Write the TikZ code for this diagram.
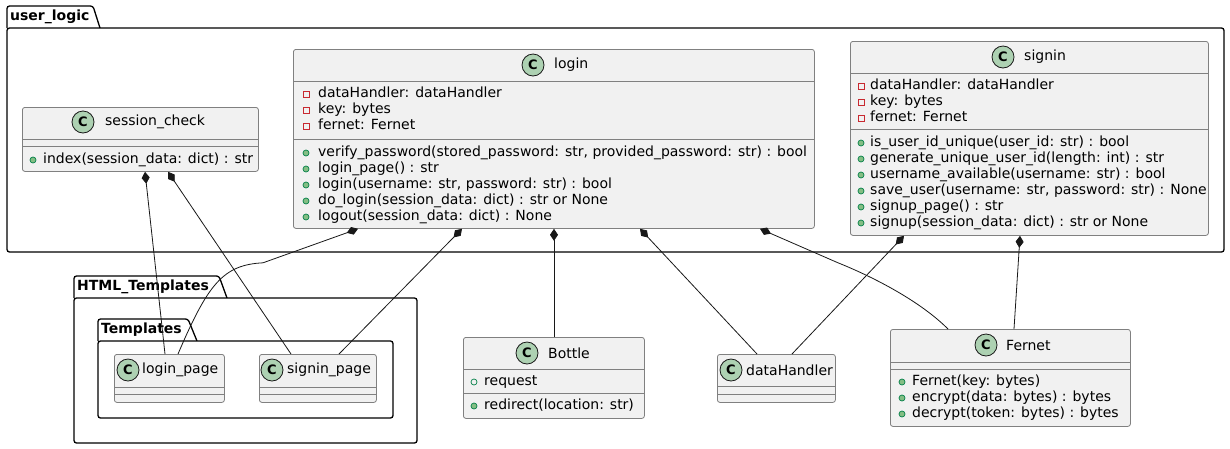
\documentclass[tikz,border=0pt]{standalone}
\usepackage{fontspec}
\setmainfont{DejaVu Sans}
\usetikzlibrary{arrows.meta,calc}

\definecolor{classbg}{HTML}{F1F1F1}
\definecolor{classln}{HTML}{808080}
\definecolor{spotbg}{HTML}{ADD1B2}
\definecolor{privred}{HTML}{C82930}
\definecolor{pubgreen}{HTML}{038048}
\definecolor{pubfill}{HTML}{84BE84}
\definecolor{edgeln}{HTML}{181818}

\begin{document}
\begin{tikzpicture}[x=1pt,y=-1pt,font=\fontsize{14}{16}\selectfont,
    classbox/.style={draw=classln, fill=classbg, rounded corners=2.5pt, anchor=north west, inner sep=0pt, line width=0.8pt},
    spot/.style={circle, draw=edgeln, fill=spotbg, minimum size=22pt, inner sep=0pt, line width=0.8pt, font=\bfseries\fontsize{13}{13}\selectfont},
    cname/.style={anchor=west, inner sep=0pt, font=\fontsize{14}{16}\selectfont},
    member/.style={anchor=west, inner sep=0pt, text height=10pt, text depth=3pt},
    sepline/.style={draw=classln, line width=0.8pt},
    pkg/.style={draw=black, fill=white, line width=1.3pt, rounded corners=2.5pt},
    pkglabel/.style={anchor=west, inner sep=0pt, font=\bfseries\fontsize{14}{16}\selectfont},
    comp/.style={draw=edgeln, line width=0.8pt, {Diamond[length=12pt,width=8pt]}-},
    privf/.style={draw=privred, line width=0.7pt},
    pubf/.style={draw=pubgreen, line width=0.7pt},
    pubm/.style={draw=pubgreen, fill=pubfill, line width=0.7pt}]

    \useasboundingbox (0,0) rectangle (1230,448);

    % Packages
    \draw[pkg] (7,28) -- (7,6) -- (93,6) -- (100,28);
    \draw[pkg] (7,28) rectangle (1224,252);
    \node[pkglabel] (userlogic) at (10,17) {user\_logic};

    \draw[pkg] (74,298) -- (74,276) -- (219,276) -- (227,298);
    \draw[pkg] (74,298) rectangle (417,443);
    \node[pkglabel] (htmltpl) at (77,287) {HTML\_Templates};

    \draw[pkg] (98,341) -- (98,319) -- (188,319) -- (197,341);
    \draw[pkg] (98,341) rectangle (393,418);
    \node[pkglabel] (tpl) at (101,330) {Templates};

    % session_check
    \node[classbox, minimum width=236pt, minimum height=64pt] (sc) at (22,107) {};
    \node[spot] (sc-c) at (83,122) {C};
    \node[cname] (sc-n) at (105,122) {session\_check};
    \draw[sepline] (22,139) -- (258,139);
    \draw[sepline] (22,146) -- (258,146);
    \draw[pubm] (33,160) circle (3pt);
    \node[member] (sc-m0) at (43,160) {index(session\_data: dict) : str};

    % login
    \node[classbox, minimum width=521pt, minimum height=179pt] (login) at (293,49) {};
    \node[spot] (login-c) at (533,65) {C};
    \node[cname] (login-n) at (554,65) {login};
    \draw[sepline] (293,81) -- (814,81);
    \draw[sepline] (293,139) -- (814,139);
    \foreach \t [count=\i from 0] in {{dataHandler: dataHandler}, {key: bytes}, {fernet: Fernet}} {
        \draw[privf] (303,91+16*\i) rectangle +(6,6);
        \node[member] (login-f\i) at (318,94+16*\i) {\t};
    }
    \foreach \t [count=\i from 0] in {{verify\_password(stored\_password: str, provided\_password: str) : bool},
        {login\_page() : str}, {login(username: str, password: str) : bool},
        {do\_login(session\_data: dict) : str or None}, {logout(session\_data: dict) : None}} {
        \draw[pubm] (306,153+16*\i) circle (3pt);
        \node[member] (login-m\i) at (318,153+16*\i) {\t};
    }

    % signin
    \node[classbox, minimum width=358pt, minimum height=194pt] (signin) at (850,41) {};
    \node[spot] (signin-c) at (1003,57) {C};
    \node[cname] (signin-n) at (1024,57) {signin};
    \draw[sepline] (850,73) -- (1208,73);
    \draw[sepline] (850,129) -- (1208,129);
    \foreach \t [count=\i from 0] in {{dataHandler: dataHandler}, {key: bytes}, {fernet: Fernet}} {
        \draw[privf] (858,83+16*\i) rectangle +(6,6);
        \node[member] (signin-f\i) at (870,86+16*\i) {\t};
    }
    \foreach \t [count=\i from 0] in {{is\_user\_id\_unique(user\_id: str) : bool},
        {generate\_unique\_user\_id(length: int) : str}, {username\_available(username: str) : bool},
        {save\_user(username: str, password: str) : None}, {signup\_page() : str},
        {signup(session\_data: dict) : str or None}} {
        \draw[pubm] (861,143+16*\i) circle (3pt);
        \node[member] (signin-m\i) at (870,143+16*\i) {\t};
    }

    % login_page and signin_page
    \node[classbox, minimum width=110pt, minimum height=48pt] (lp) at (114,354) {};
    \node[spot] (lp-c) at (128,370) {C};
    \node[cname] (lp-n) at (142,370) {login\_page};
    \draw[sepline] (114,387) -- (224,387);
    \draw[sepline] (114,394) -- (224,394);

    \node[classbox, minimum width=117pt, minimum height=48pt] (sp) at (259,354) {};
    \node[spot] (sp-c) at (272,370) {C};
    \node[cname] (sp-n) at (287,370) {signin\_page};
    \draw[sepline] (259,387) -- (376,387);
    \draw[sepline] (259,394) -- (376,394);

    % Bottle
    \node[classbox, minimum width=181pt, minimum height=81pt] (bottle) at (463,337) {};
    \node[spot] (bottle-c) at (527,353) {C};
    \node[cname] (bottle-n) at (548,353) {Bottle};
    \draw[sepline] (463,369) -- (644,369);
    \draw[sepline] (463,393) -- (644,393);
    \draw[pubf] (474,382) circle (3pt);
    \node[member] (bottle-f0) at (484,382) {request};
    \draw[pubm] (474,406) circle (3pt);
    \node[member] (bottle-m0) at (484,406) {redirect(location: str)};

    % dataHandler
    \node[classbox, minimum width=118pt, minimum height=48pt] (dh) at (717,354) {};
    \node[spot] (dh-c) at (731,370) {C};
    \node[cname] (dh-n) at (746,370) {dataHandler};
    \draw[sepline] (717,386) -- (835,386);
    \draw[sepline] (717,394) -- (835,394);

    % Fernet
    \node[classbox, minimum width=240pt, minimum height=97pt] (fernet) at (890,329) {};
    \node[spot] (fernet-c) at (986,345) {C};
    \node[cname] (fernet-n) at (1006,345) {Fernet};
    \draw[sepline] (890,362) -- (1130,362);
    \draw[sepline] (890,369) -- (1130,369);
    \foreach \t [count=\i from 0] in {{Fernet(key: bytes)}, {encrypt(data: bytes) : bytes},
        {decrypt(token: bytes) : bytes}} {
        \draw[pubm] (902,382+16*\i) circle (3pt);
        \node[member] (fernet-m\i) at (912,382+16*\i) {\t};
    }

    % Compositions
    \draw[comp] ([xshift=123pt]sc.south west) -- ([xshift=51pt]lp.north west);
    \draw[comp] ([xshift=146pt]sc.south west) -- ([xshift=32pt]sp.north west);
    \draw[comp] ([xshift=65pt]login.south west) -- +(-95,34)
        .. controls +(-40,2) and +(30,-70) .. ([xshift=64pt]lp.north west);
    \draw[comp] ([xshift=169pt]login.south west) -- ([xshift=80pt]sp.north west);
    \draw[comp] ([xshift=261pt]login.south west) -- ([xshift=91pt]bottle.north west);
    \draw[comp] ([xshift=347pt]login.south west) -- ([xshift=40pt]dh.north west);
    \draw[comp] ([xshift=467pt]login.south west) -- +(78,34)
        .. controls +(30,12) and +(-30,-30) .. ([xshift=58pt]fernet.north west);
    \draw[comp] ([xshift=54pt]signin.south west) -- ([xshift=75pt]dh.north west);
    \draw[comp] ([xshift=170pt]signin.south west) -- ([xshift=124pt]fernet.north west);
\end{tikzpicture}
\end{document}
